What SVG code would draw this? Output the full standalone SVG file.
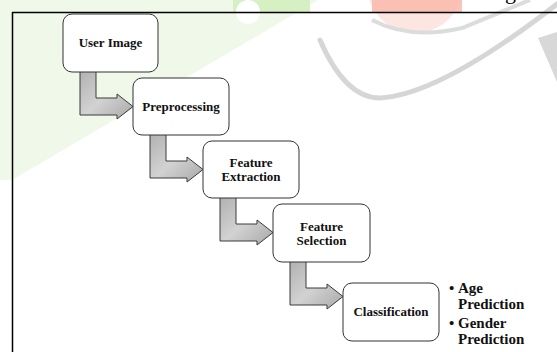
<svg xmlns="http://www.w3.org/2000/svg" width="557" height="352" viewBox="0 0 557 352">
  <defs>
    <linearGradient id="arrowFill" x1="0" y1="0" x2="1" y2="1">
      <stop offset="0" stop-color="#b0b0b0"/>
      <stop offset="0.5" stop-color="#d2d2d2"/>
      <stop offset="1" stop-color="#a8a8a8"/>
    </linearGradient>
    <path id="bentArrow" d="M17,-2 L33,-2 L33,26 L54,26 L54,22 L70,34.5 L54,47 L54,43 L17,43 Z"/>
  </defs>
  <style>
    .box { fill: #ffffff; stroke: #333333; stroke-width: 1; }
    .arrow { fill: url(#arrowFill); stroke: #3a3a3a; stroke-width: 1; stroke-linejoin: miter; }
    .label { font-family: "Liberation Serif", "Times New Roman", serif; font-weight: bold; font-size: 13px; fill: #111111; text-anchor: middle; }
    .bullet { font-family: "Liberation Serif", "Times New Roman", serif; font-weight: bold; font-size: 15px; fill: #111111; }
    .frame { stroke: #000000; stroke-width: 1.5; fill: none; }
  </style>

  <rect width="557" height="352" fill="#ffffff"/>

  <g id="watermark">
    <polygon points="0,0 318,0 12,180 0,180" fill="#f0f8e9"/>
    <rect x="233" y="0" width="77" height="12" fill="#d6f0c4"/>
    <circle cx="248" cy="12" r="12" fill="#ffffff"/>
    <circle cx="415" cy="-15" r="48" fill="#fde6e1"/>
    <rect x="372" y="0" width="90" height="12" fill="#f9b7a8" opacity="0.8"/>
    <path d="M372,20 Q410,40 462,28 L530,0" fill="none" stroke="#dcdcdc" stroke-width="4"/>
    <path d="M320,40 Q345,98 380,98 Q440,95 557,4" fill="none" stroke="#d6d6d6" stroke-width="5" stroke-linecap="round"/>
    <path d="M538,38 L557,32 L557,82 Z" fill="#d8d8d8"/>
  </g>

  <text x="505" y="-1" font-family="Liberation Serif, serif" font-size="22" fill="#000000">g</text>

  <g id="frame">
    <line class="frame" x1="12" y1="12.5" x2="557" y2="12.5"/>
    <line class="frame" x1="12.5" y1="12" x2="12.5" y2="352"/>
  </g>

  <g id="connectors">
    <use href="#bentArrow" class="arrow" transform="translate(63,72)"/>
    <use href="#bentArrow" class="arrow" transform="translate(133,135)"/>
    <use href="#bentArrow" class="arrow" transform="translate(203,198)"/>
    <use href="#bentArrow" class="arrow" transform="translate(273,262)"/>
  </g>

  <g id="node-user-image">
    <rect class="box" x="63" y="14" width="95" height="58" rx="9"/>
    <text class="label" x="110.5" y="47">User Image</text>
  </g>
  <g id="node-preprocessing">
    <rect class="box" x="133" y="78" width="96" height="57" rx="9"/>
    <text class="label" x="181" y="111">Preprocessing</text>
  </g>
  <g id="node-feature-extraction">
    <rect class="box" x="203" y="141" width="96" height="57" rx="9"/>
    <text class="label" x="251" y="167">Feature</text>
    <text class="label" x="251" y="181">Extraction</text>
  </g>
  <g id="node-feature-selection">
    <rect class="box" x="273" y="204" width="97" height="58" rx="9"/>
    <text class="label" x="321.5" y="231">Feature</text>
    <text class="label" x="321.5" y="245">Selection</text>
  </g>
  <g id="node-classification">
    <rect class="box" x="343" y="283" width="96" height="58" rx="9"/>
    <text class="label" x="391" y="316">Classification</text>
  </g>
  <g id="outputs">
    <text class="bullet" x="449" y="293">•<tspan x="458">Age</tspan></text>
    <text class="bullet" x="458" y="309">Prediction</text>
    <text class="bullet" x="449" y="328">•<tspan x="458">Gender</tspan></text>
    <text class="bullet" x="458" y="344">Prediction</text>
  </g>
</svg>
